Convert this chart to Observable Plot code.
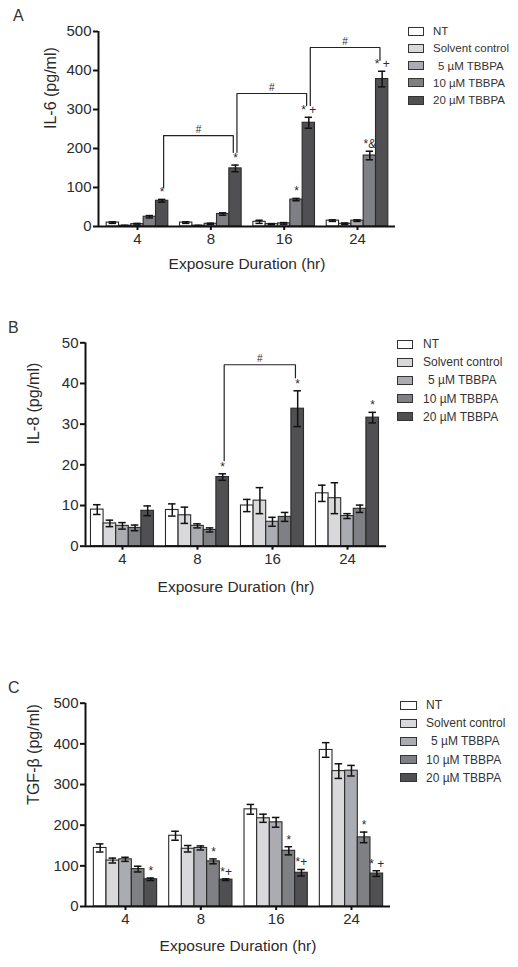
<!DOCTYPE html>
<html><head><meta charset="utf-8">
<script src="https://cdn.jsdelivr.net/npm/d3@7"></script>
<script src="https://cdn.jsdelivr.net/npm/@observablehq/plot@0.6"></script>
<style>
body{margin:0;background:#fff;}
#root{position:relative;width:518px;height:967px;overflow:hidden;font-family:"Liberation Sans",Arial,sans-serif;color:#333;}
.panel{position:absolute;left:0;}
.panel svg{overflow:visible;}
.panel svg text{font-weight:normal;}
.legend{position:absolute;color:#333;}
.legend .row{position:absolute;left:0;white-space:pre;display:flex;align-items:center;height:12px;line-height:12px;}
.sw{box-sizing:border-box;height:9px;border:1px solid #333;}
.letter{position:absolute;font-size:16px;line-height:16px;color:#333;}
</style></head><body><div id="root"></div>
<script>
// ---------- data ----------
const groups = ["4", "8", "16", "24"];
const treatments = ["NT", "Solvent control", "5 µM TBBPA", "10 µM TBBPA", "20 µM TBBPA"];
const colors = ["#ffffff", "#d9d9db", "#abacb1", "#7f8084", "#505052"];

// IL-6 (pg/ml): rows = exposure duration, cols = treatment
const il6Mean = [[10, 2, 6, 25, 66], [10, 2, 7, 32, 149], [12, 6, 8, 69, 266], [15, 7, 15, 182, 378]];
const il6Err  = [[2, 1, 2, 3, 3.5], [2, 1, 1.5, 3, 8.5], [4, 1.5, 2, 3, 14], [2, 2, 2, 11, 20]];
const il6Stars = [[0, 4, "*"], [1, 4, "*"], [2, 3, "*"], [2, 4, "* +"], [3, 3, "*&"], [3, 4, "* +"]];
// [group1, group2, bottom1, top, bottom2]
const il6Brackets = [[0, 1, 100, 233, 190], [1, 2, 190, 341, 310], [2, 3, 310, 459, 426]];

// IL-8 (pg/ml)
const il8Mean = [[9, 5.6, 5, 4.5, 8.7], [8.9, 7.6, 5, 4, 17], [10, 11.2, 6, 7.2, 33.8], [13, 11.8, 7.4, 9.2, 31.6]];
const il8Err  = [[1.2, 0.8, 0.8, 0.7, 1.2], [1.5, 2, 0.5, 0.5, 0.8], [1.5, 3.2, 1.1, 1.1, 4.4], [2, 3.8, 0.6, 0.9, 1.3]];
const il8Stars = [[1, 4, "*"], [2, 4, "*"], [3, 4, "*"]];
const il8Brackets = [[1, 2, 21, 44.6, 41.4]];

// TGF-beta (pg/ml)
const tgfMean = [[144, 113, 116, 92, 67], [174, 142, 144, 111, 66], [239, 217, 207, 137, 83], [385, 333, 334, 170, 81]];
const tgfErr  = [[10, 6, 5, 7, 3], [11, 8, 5, 6, 2], [12, 10, 12, 10, 8], [18, 18, 13, 13, 7]];
const tgfStars = [[0, 4, "*"], [1, 3, "*"], [1, 4, "*+"], [2, 3, "*"], [2, 4, "*+"], [3, 3, "*"], [3, 4, "* +"]];
const tgfBrackets = [];

const il6Ticks = [0, 100, 200, 300, 400, 500];
const il8Ticks = [0, 10, 20, 30, 40, 50];
const tgfTicks = [0, 100, 200, 300, 400, 500];

// ---------- drawing ----------
const BW = 0.168, CAP = 0.05;
const pos = (g, t) => g + (t - 2) * BW;
const root = document.getElementById("root");
const FONT = "Liberation Sans, Arial, sans-serif";
const INK = "#2b2b2b";

function makePanel(p) {
  const rows = [];
  p.mean.forEach((arr, g) => arr.forEach((m, t) => rows.push({g, t, m, e: p.err[g][t], x: pos(g, t)})));
  const stars = p.stars.map(([g, t, label]) => ({x: pos(g, t), y: p.mean[g][t] + p.err[g][t], label}));
  const bpts = [], bmid = [];
  p.brackets.forEach(([g1, g2, b1, top, b2], i) => {
    const xl = pos(g1, 4) + 0.02, xr = pos(g2, 4) - 0.03;
    bpts.push({id: i, x: xl, y: b1}, {id: i, x: xl, y: top}, {id: i, x: xr, y: top}, {id: i, x: xr, y: b2});
    bmid.push({x: (xl + xr) / 2, y: top});
  });
  const ymax = p.ticks[p.ticks.length - 1];
  const chart = Plot.plot({
    width: p.width, height: p.height,
    marginLeft: p.ml, marginRight: p.width - p.axisEnd, marginTop: p.mt, marginBottom: p.mb,
    x: {domain: p.xDomain, axis: null},
    y: {domain: [0, ymax], axis: null},
    style: {fontFamily: FONT, color: INK, background: "transparent", overflow: "visible"},
    marks: [
      Plot.rect(rows, {x1: d => d.x - BW / 2, x2: d => d.x + BW / 2, y1: 0, y2: "m",
        fill: d => colors[d.t], stroke: "#2a2a2a", strokeWidth: 1.1}),
      Plot.ruleX(rows, {x: "x", y1: d => Math.max(0, d.m - d.e), y2: d => d.m + d.e, stroke: "#111", strokeWidth: 1.5}),
      Plot.ruleY(rows, {y: d => d.m + d.e, x1: d => d.x - CAP, x2: d => d.x + CAP, stroke: "#111", strokeWidth: 1.5}),
      Plot.ruleY(rows.filter(d => d.m - d.e > 0), {y: d => d.m - d.e, x1: d => d.x - CAP, x2: d => d.x + CAP, stroke: "#111", strokeWidth: 1.5}),
      Plot.line(bpts, {x: "x", y: "y", z: "id", stroke: "#222", strokeWidth: 1.2}),
      Plot.text(bmid, {x: "x", y: "y", text: () => "#", dy: -6, fontSize: 10, fill: INK}),
      Plot.text(stars, {x: "x", y: "y", text: "label", dy: -7, fontSize: 12, fill: INK}),
      Plot.ruleY([0], {stroke: "#111", strokeWidth: 2}),
      Plot.ruleX([p.xDomain[0]], {stroke: "#111", strokeWidth: 2}),
      Plot.axisY(p.ticks, {tickSize: 5, tickPadding: 2, fontSize: 15, stroke: "#111", fill: INK, strokeWidth: 2, label: null, tickFormat: d => String(d)}),
      Plot.axisX([0, 1, 2, 3], {tickSize: 4, tickPadding: 3, fontSize: 15, stroke: "#111", fill: INK, strokeWidth: 2, label: null, tickFormat: i => groups[i]}),
      Plot.text([p.ylabel], {frameAnchor: "left", text: d => d, rotate: -90, dx: -p.ylabOff, fontSize: 16, fill: INK}),
      Plot.text(["Exposure Duration (hr)"], {frameAnchor: "bottom", text: d => d, dy: p.xlabOff, fontSize: 15.5, fill: INK})
    ]
  });
  const div = document.createElement("div");
  div.className = "panel";
  div.style.top = p.top + "px";
  div.appendChild(chart);
  root.appendChild(div);

  const letter = document.createElement("div");
  letter.className = "letter";
  letter.textContent = p.letter;
  letter.style.left = p.letterPos[0] + "px";
  letter.style.top = p.letterPos[1] + "px";
  root.appendChild(letter);

  const lg = document.createElement("div");
  lg.className = "legend";
  lg.style.left = p.legend.x + "px";
  lg.style.top = p.legend.y + "px";
  lg.style.fontSize = p.legend.fs + "px";
  treatments.forEach((name, i) => {
    const r = document.createElement("div");
    r.className = "row";
    r.style.top = (i * p.legend.dy) + "px";
    const sw = document.createElement("span");
    sw.className = "sw";
    sw.style.width = p.legend.sw + "px";
    sw.style.marginRight = p.legend.gap + "px";
    sw.style.background = colors[i];
    const tx = document.createElement("span");
    tx.textContent = name;
    if (i === 2) tx.style.paddingLeft = "5px";
    r.appendChild(sw); r.appendChild(tx);
    lg.appendChild(r);
  });
  root.appendChild(lg);
}

makePanel({letter: "A", letterPos: [13, 8], top: 0, width: 400, height: 290, ml: 98, axisEnd: 395, mt: 31, mb: 64,
  xDomain: [-0.532, 3.518], ticks: il6Ticks, mean: il6Mean, err: il6Err, stars: il6Stars, brackets: il6Brackets,
  ylabel: "IL-6 (pg/ml)", ylabOff: 48, xlabOff: 42,
  legend: {x: 408, y: 25, dy: 17.3, fs: 11.5, sw: 16, gap: 9}});

makePanel({letter: "B", letterPos: [8, 320], top: 300, width: 400, height: 300, ml: 85, axisEnd: 386, mt: 42.3, mb: 54.3,
  xDomain: [-0.493, 3.52], ticks: il8Ticks, mean: il8Mean, err: il8Err, stars: il8Stars, brackets: il8Brackets,
  ylabel: "IL-8 (pg/ml)", ylabOff: 52, xlabOff: 46,
  legend: {x: 397, y: 338, dy: 18.2, fs: 12, sw: 16, gap: 10}});

makePanel({letter: "C", letterPos: [8, 680], top: 640, width: 400, height: 327, ml: 85, axisEnd: 390, mt: 62.7, mb: 61,
  xDomain: [-0.531, 3.518], ticks: tgfTicks, mean: tgfMean, err: tgfErr, stars: tgfStars, brackets: tgfBrackets,
  ylabel: "TGF-β (pg/ml)", ylabOff: 52, xlabOff: 44,
  legend: {x: 400, y: 699, dy: 18.2, fs: 12, sw: 17, gap: 9}});
</script>
</body></html>
